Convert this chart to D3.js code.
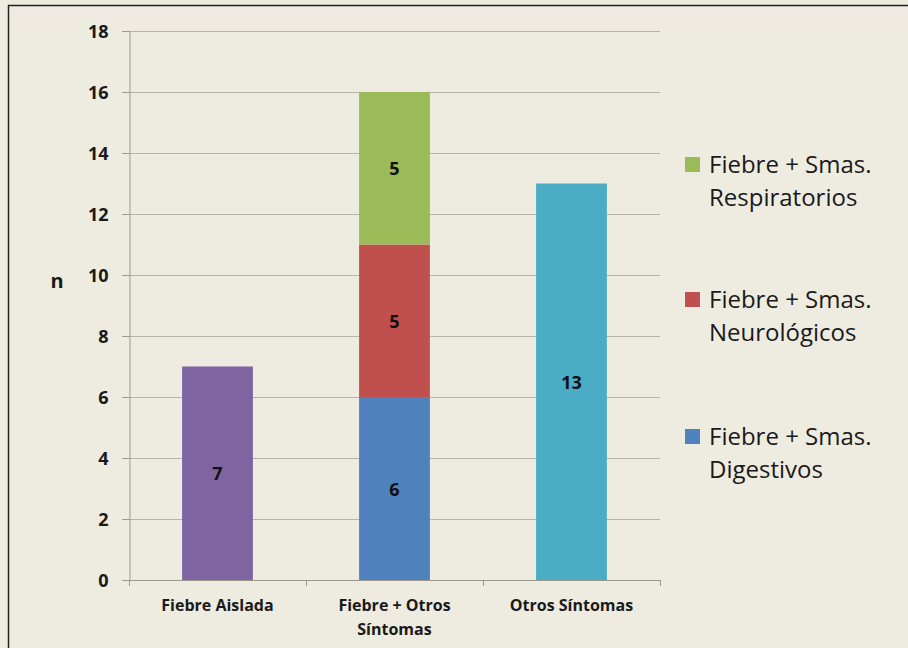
<!DOCTYPE html>
<html>
<head>
<meta charset="utf-8">
<script src="https://cdn.jsdelivr.net/npm/d3@7"></script>
<style>
  html, body { margin: 0; padding: 0; background: #eeebe0; }
  svg { display: block; }
</style>
</head>
<body>
<svg id="chart" width="908" height="648"></svg>
<script>
// Categories on the x axis
const categories = ["Fiebre Aislada", "Fiebre + Otros Síntomas", "Otros Síntomas"];
// Category label lines (wrapped as drawn under the axis)
const categoryLines = [["Fiebre Aislada"], ["Fiebre + Otros", "Síntomas"], ["Otros Síntomas"]];

// Series (stack order bottom to top)
const seriesNames = ["Fiebre Aislada", "Fiebre + Smas. Digestivos", "Fiebre + Smas. Neurológicos", "Fiebre + Smas. Respiratorios", "Otros Síntomas"];
const fiebreAislada   = [7, 0, 0];
const digestivos      = [0, 6, 0];
const neurologicos    = [0, 5, 0];
const respiratorios   = [0, 5, 0];
const otrosSintomas   = [0, 0, 13];
const seriesColors = ["#8064a2", "#4f81bd", "#c0504d", "#9bbb59", "#4bacc6"];

// Legend entries (top to bottom) with index into the series
const legendItems = [
  { idx: 3, lines: ["Fiebre + Smas.", "Respiratorios"] },
  { idx: 2, lines: ["Fiebre + Smas.", "Neurológicos"] },
  { idx: 1, lines: ["Fiebre + Smas.", "Digestivos"] }
];

const yTicks = [0, 2, 4, 6, 8, 10, 12, 14, 16, 18];
const yLabel = "n";

const seriesValues = [fiebreAislada, digestivos, neurologicos, respiratorios, otrosSintomas];
const rows = categories.map((c, i) => {
  const r = { category: c };
  seriesNames.forEach((s, j) => r[s] = seriesValues[j][i]);
  return r;
});

const svg = d3.select("#chart");
const W = 908, H = 648;
const margin = { left: 129, right: 248, top: 31, bottom: 68 };

// Frame: background and the dark border on the top and left
svg.append("rect").attr("x", 0).attr("y", 0).attr("width", W).attr("height", H).attr("fill", "#eeebe0");
svg.append("rect").attr("x", 9).attr("y", 6).attr("width", W - 9).attr("height", 14).attr("fill", "#efe7e2").attr("opacity", 0.6);
svg.append("line").attr("x1", 8).attr("x2", W).attr("y1", 5.5).attr("y2", 5.5).attr("stroke", "#222").attr("stroke-width", 1.5);
svg.append("line").attr("x1", 8.5).attr("x2", 8.5).attr("y1", 5).attr("y2", H).attr("stroke", "#222").attr("stroke-width", 1.5);

const x = d3.scaleBand().domain(categories).range([margin.left, W - margin.right]).paddingInner(0.6).paddingOuter(0.3);
const xOuter = d3.scaleBand().domain(categories).range([margin.left, W - margin.right]);
const y = d3.scaleLinear().domain([0, 18]).range([H - margin.bottom, margin.top]);

const fontFamily = "'Open Sans', 'Liberation Sans', sans-serif";

// Horizontal gridlines
const grid = svg.append("g");
grid.selectAll("line").data(yTicks.filter(t => t > 0)).join("line")
  .attr("x1", margin.left - 7).attr("x2", W - margin.right)
  .attr("y1", d => Math.round(y(d)) + 0.5).attr("y2", d => Math.round(y(d)) + 0.5)
  .attr("stroke", "#b5b3aa").attr("stroke-width", 1);

// Y axis
const yAxis = svg.append("g").attr("transform", `translate(${margin.left + 0.5},0)`)
  .call(d3.axisLeft(y).tickValues(yTicks).tickSize(7).tickPadding(14).tickFormat(d3.format("d")));
yAxis.attr("font-size", null).attr("font-family", null);
yAxis.select(".domain").attr("stroke", "#9a988f");
yAxis.selectAll(".tick line").attr("stroke", "#9a988f");
yAxis.selectAll(".tick text").attr("font-family", fontFamily).attr("font-weight", "bold")
  .attr("font-size", 18).attr("fill", "#1a1a1a").attr("dy", "0.36em");

// X axis
const xTickPositions = categories.map(c => xOuter(c)).concat([W - margin.right]);
const xAxisG = svg.append("g");
xAxisG.append("line").attr("x1", margin.left).attr("x2", W - margin.right)
  .attr("y1", Math.round(y(0)) + 0.5).attr("y2", Math.round(y(0)) + 0.5).attr("stroke", "#9a988f");
xAxisG.selectAll("line.tick").data(xTickPositions).join("line").attr("class", "tick")
  .attr("x1", d => Math.round(d) + 0.5).attr("x2", d => Math.round(d) + 0.5)
  .attr("y1", y(0)).attr("y2", y(0) + 6).attr("stroke", "#9a988f");

// Category labels
categories.forEach((c, i) => {
  const cx = x(c) + x.bandwidth() / 2;
  const t = svg.append("text").attr("x", cx).attr("y", y(0) + 31)
    .attr("text-anchor", "middle").attr("font-family", fontFamily).attr("font-weight", "bold")
    .attr("font-size", 16).attr("fill", "#1a1a1a");
  categoryLines[i].forEach((ln, k) => t.append("tspan").attr("x", cx).attr("dy", k === 0 ? 0 : 24).text(ln));
});

// Y axis title
svg.append("text").attr("x", 57).attr("y", y(10) + 13).attr("text-anchor", "middle")
  .attr("font-family", fontFamily).attr("font-weight", "bold").attr("font-size", 20).attr("fill", "#1a1a1a").text(yLabel);

// Stacked bars with value labels
const stacked = d3.stack().keys(seriesNames)(rows);
const bars = svg.append("g");
stacked.forEach((layer, j) => {
  layer.forEach((seg, i) => {
    const v = seg[1] - seg[0];
    if (v <= 0) return;
    const c = categories[i];
    bars.append("rect").attr("x", x(c)).attr("width", x.bandwidth())
      .attr("y", y(seg[1])).attr("height", y(seg[0]) - y(seg[1]))
      .attr("fill", seriesColors[j]);
    bars.append("text").attr("x", x(c) + x.bandwidth() / 2).attr("y", (y(seg[0]) + y(seg[1])) / 2 + 7)
      .attr("text-anchor", "middle").attr("font-family", fontFamily).attr("font-weight", "bold")
      .attr("font-size", 18).attr("fill", "#111").text(v);
  });
});

// Legend
const legendTop = [165, 300, 437];
legendItems.forEach((item, k) => {
  const g = svg.append("g").attr("transform", `translate(685,${legendTop[k]})`);
  g.append("rect").attr("x", 0).attr("y", -8).attr("width", 15).attr("height", 15).attr("fill", seriesColors[item.idx]);
  const t = g.append("text").attr("font-family", fontFamily).attr("font-size", 24).attr("fill", "#1a1a1a");
  item.lines.forEach((ln, i) => t.append("tspan").attr("x", 24).attr("y", 8 + i * 33).text(ln));
});
</script>
</body>
</html>
